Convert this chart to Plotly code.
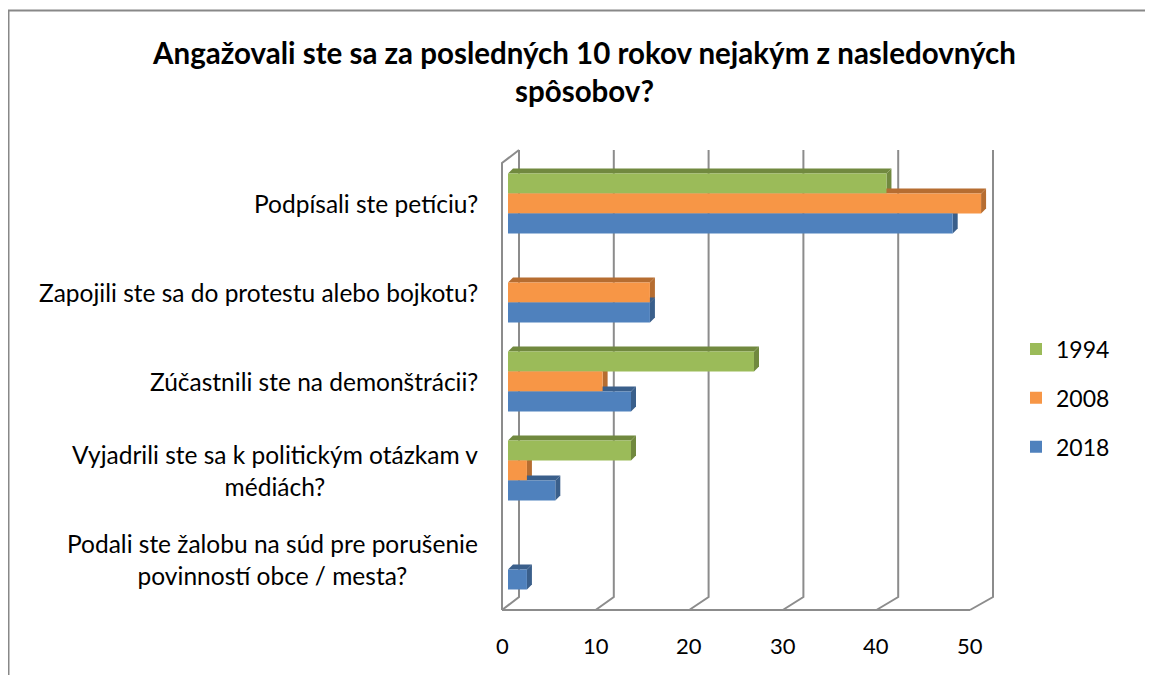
import plotly.graph_objects as go

categories = [
    "Podpísali ste petíciu?",
    "Zapojili ste sa do protestu alebo bojkotu?",
    "Zúčastnili ste na demonštrácii?",
    "Vyjadrili ste sa k politickým otázkam v<br>médiách?",
    "Podali ste žalobu na súd pre porušenie<br>povinností obce / mesta?",
]
years = ["1994", "2008", "2018"]
values_1994 = [40, None, 26, 13, None]
values_2008 = [50, 15, 10, 2, None]
values_2018 = [47, 15, 13, 5, 2]
x_ticks = [0, 10, 20, 30, 40, 50]

series = [values_1994, values_2008, values_2018]
colors = ["#9BBB59", "#F79646", "#4F81BD"]
dark = ["#71893F", "#B66D31", "#3A5F8B"]
FONT = "Lato"
GRID = "#8C8C8C"

W, H = 1153, 675
L, R, T, B = 500, 161, 151, 79
XMAX = 52
pw = W - L - R
ph = H - T - B
ppu = pw / XMAX            # pixels per data unit in the bar plane
BARGAP = 0.326
bw = (1 - BARGAP) / 3
dx = 5 / ppu
dy = 5 / (ph / len(categories))

# 3-D frame geometry, in paper coordinates (pixel offsets from the bar plane)
def xp_front(v):
    return (-6 + 9.36 * v) / pw

def xp_back(v):
    return (11 + 9.48 * v) / pw

def yp(px_from_plot_bottom):
    return px_from_plot_bottom / ph

ypos = list(range(len(categories)))
fig = go.Figure()
for k, (yr, vals) in enumerate(zip(years, series)):
    fig.add_trace(go.Bar(
        y=ypos, x=vals, name=yr, orientation="h",
        marker=dict(color=colors[k], line=dict(width=0)),
        legendgroup=yr,
    ))

shapes = []
# back wall gridlines + floor slants
for v in x_ticks:
    xb, xf = xp_back(v), xp_front(v)
    shapes.append(dict(type="path", xref="paper", yref="paper", layer="below",
                       path=f"M{xb},{yp(454)} L{xb},{yp(7)} L{xf},{yp(-6)}",
                       line=dict(color=GRID, width=2)))
# left wall front edge and top slant
shapes.append(dict(type="path", xref="paper", yref="paper", layer="below",
                   path=f"M{xp_back(0)},{yp(454)} L{xp_front(0)},{yp(441)} L{xp_front(0)},{yp(-6)}",
                   line=dict(color=GRID, width=2)))
# floor front edge
shapes.append(dict(type="line", xref="paper", yref="paper", layer="below",
                   x0=xp_front(0), x1=xp_front(x_ticks[-1]), y0=yp(-6), y1=yp(-6),
                   line=dict(color=GRID, width=2)))

for k, vals in enumerate(series):
    for i, v in enumerate(vals):
        if v is None:
            continue
        c = i + (k - 1) * bw
        yt, yb = c - bw / 2, c + bw / 2
        shapes.append(dict(type="path", xref="x", yref="y", layer="below",
                           path=f"M0,{yt} L{v},{yt} L{v+dx},{yt-dy} L{dx},{yt-dy} Z",
                           fillcolor=dark[k], line=dict(width=0)))
        shapes.append(dict(type="path", xref="x", yref="y", layer="below",
                           path=f"M{v},{yt} L{v},{yb} L{v+dx},{yb-dy} L{v+dx},{yt-dy} Z",
                           fillcolor=dark[k], line=dict(width=0)))

# outer chart border (left and top)
bx = (0.5 - L) / pw
by_top = (H - B - 2.5) / ph
shapes.append(dict(type="path", xref="paper", yref="paper", layer="above",
                   path=f"M{bx},-0.3 L{bx},{by_top} L1.4,{by_top}",
                   line=dict(color="#888888", width=2)))

annotations = []
for i, cat in enumerate(categories):
    annotations.append(dict(
        x=(472 - L) / pw, xref="paper", y=i, yref="y",
        text=cat, showarrow=False, xanchor="right", yanchor="middle",
        align="center", font=dict(family=FONT, size=24.5, color="#000000"),
    ))
# value-axis tick labels on the front edge of the floor
for v in x_ticks:
    annotations.append(dict(
        x=xp_front(v), xref="paper", y=yp(-41), yref="paper",
        text=str(v), showarrow=False, xanchor="center", yanchor="middle",
        font=dict(family=FONT, size=22, color="#000000"),
    ))

fig.update_layout(
    width=W, height=H,
    margin=dict(l=L, r=R, t=T, b=B),
    paper_bgcolor="white", plot_bgcolor="white",
    barmode="group", bargap=BARGAP, bargroupgap=0,
    title=dict(
        text="<b>Angažovali ste sa za posledných 10 rokov nejakým z nasledovných<br>spôsobov?</b>",
        x=0.5, xref="container", xanchor="center",
        y=1 - 56 / H, yref="container", yanchor="top",
        font=dict(family=FONT, size=29.5, color="#000000"),
    ),
    xaxis=dict(
        range=[0, XMAX], showticklabels=False, showgrid=False,
        zeroline=False, showline=False, fixedrange=True,
    ),
    yaxis=dict(
        range=[len(categories) - 0.5, -0.5], showticklabels=False,
        showgrid=False, zeroline=False, showline=False,
    ),
    legend=dict(
        xref="container", yref="container", x=1008 / W, y=1 - 390 / H,
        xanchor="left", yanchor="middle", traceorder="grouped",
        tracegroupgap=16, font=dict(family=FONT, size=23, color="#000000"),
    ),
    shapes=shapes,
    annotations=annotations,
)

fig.write_html("out.html")
